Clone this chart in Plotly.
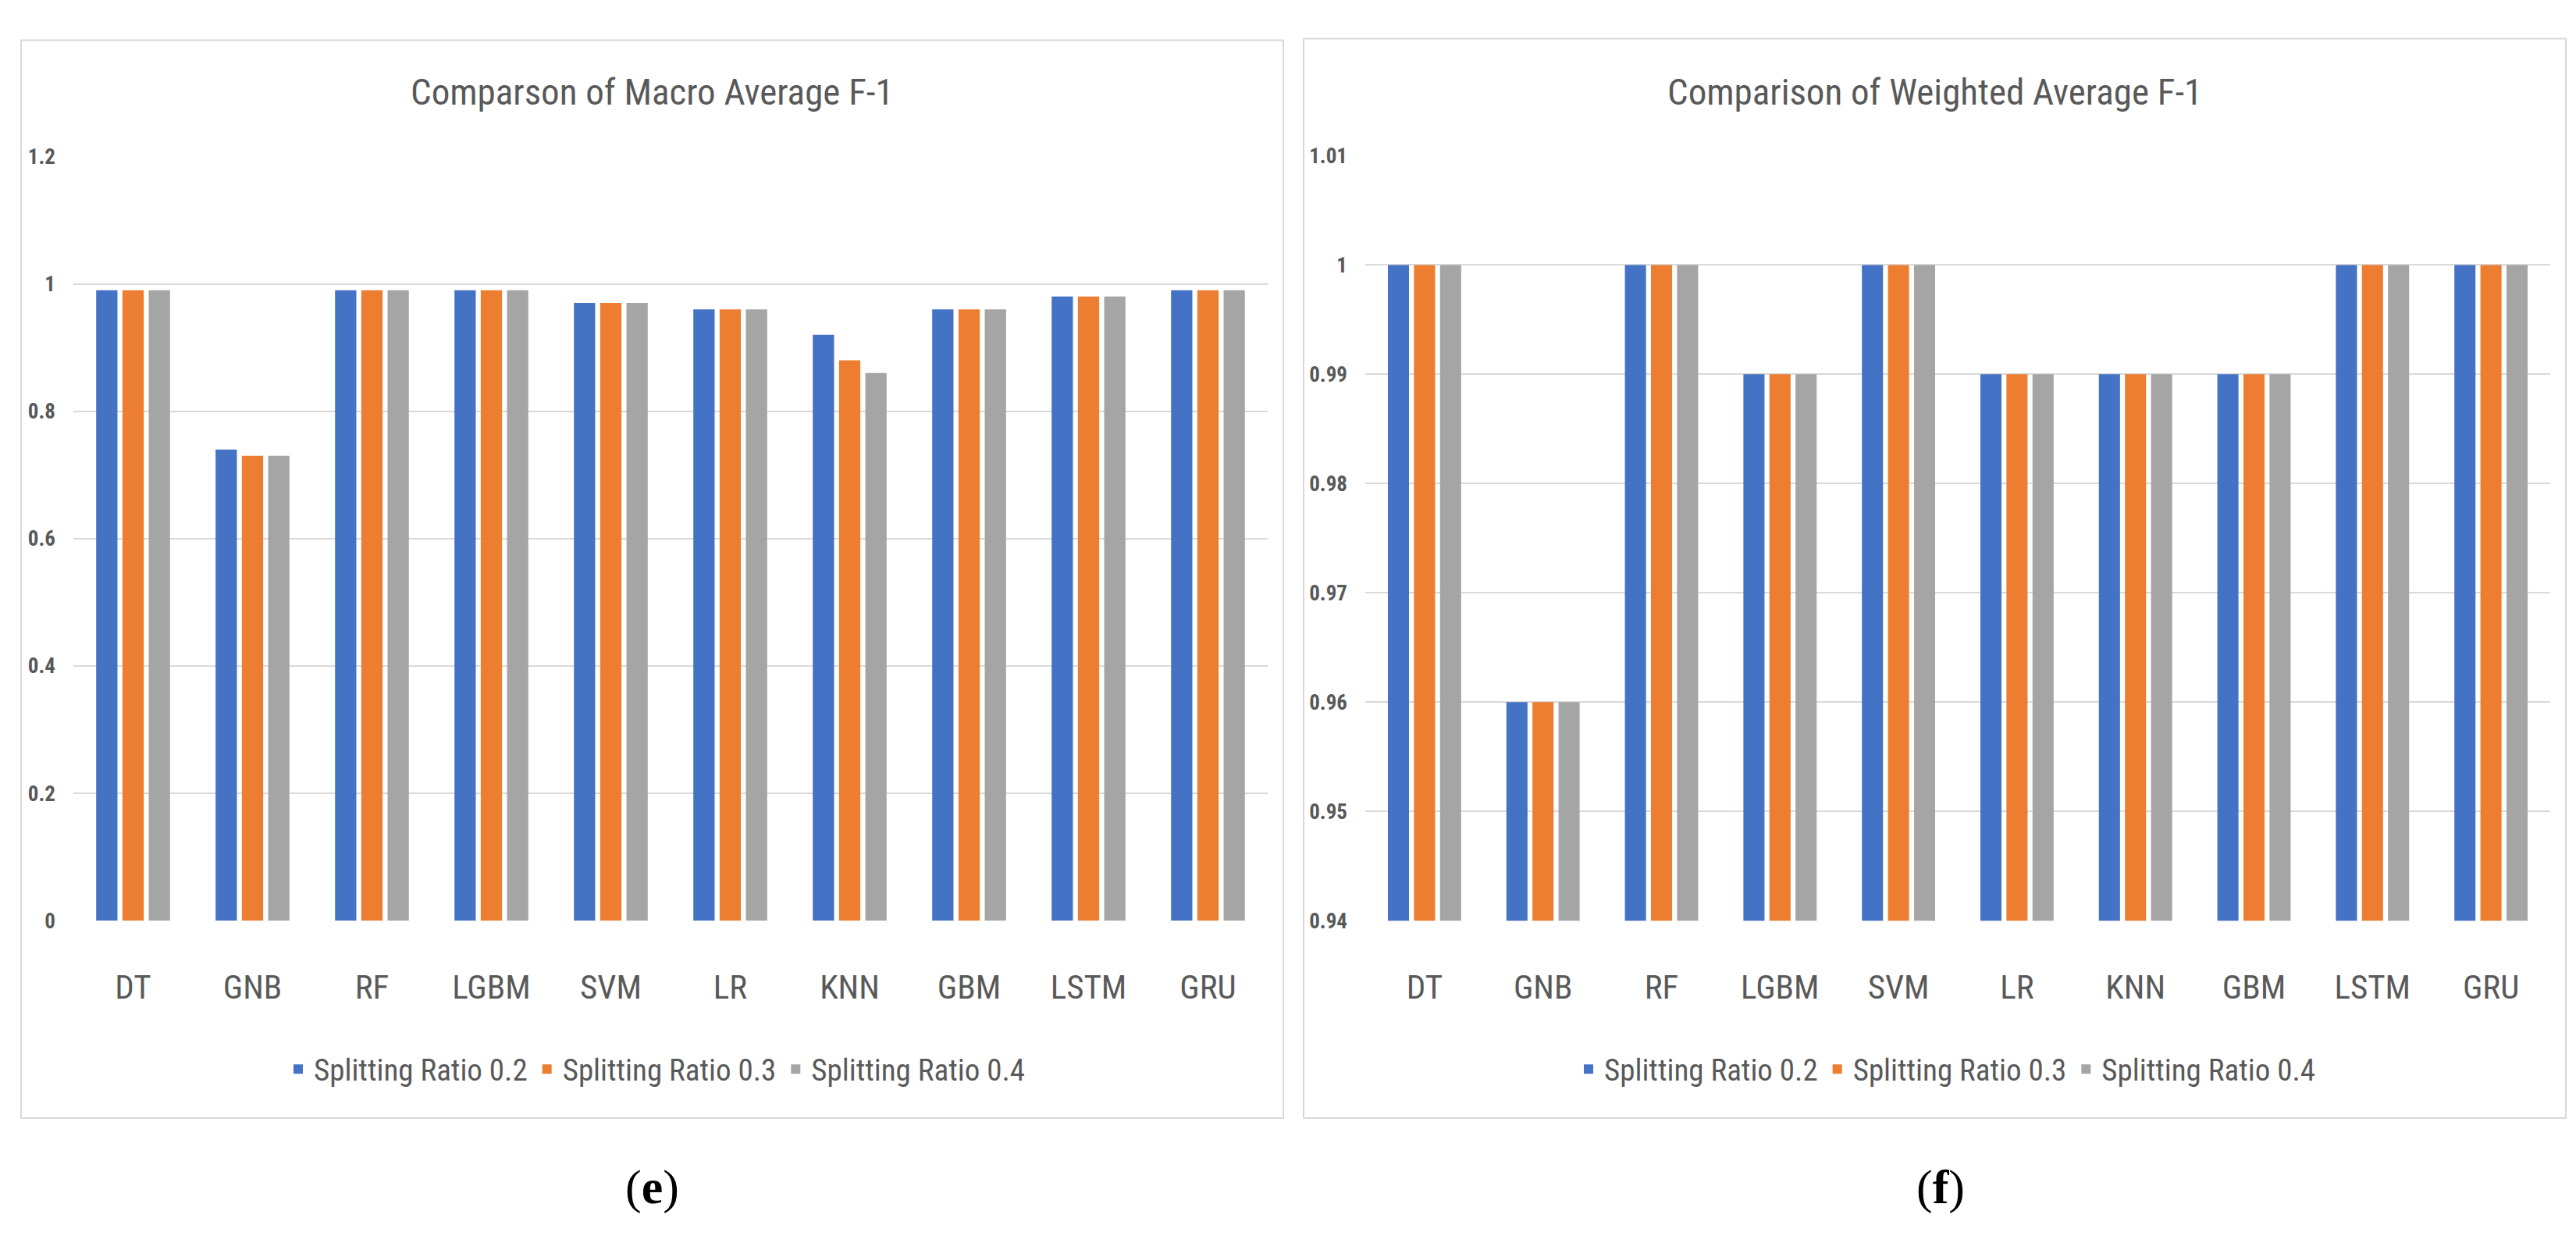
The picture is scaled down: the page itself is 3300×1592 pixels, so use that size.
import plotly.graph_objects as go

# ---------------- data ----------------
models = ["DT", "GNB", "RF", "LGBM", "SVM", "LR", "KNN", "GBM", "LSTM", "GRU"]
series_names = ["Splitting Ratio 0.2", "Splitting Ratio 0.3", "Splitting Ratio 0.4"]

macro_r02 = [0.99, 0.74, 0.99, 0.99, 0.97, 0.96, 0.92, 0.96, 0.98, 0.99]
macro_r03 = [0.99, 0.73, 0.99, 0.99, 0.97, 0.96, 0.88, 0.96, 0.98, 0.99]
macro_r04 = [0.99, 0.73, 0.99, 0.99, 0.97, 0.96, 0.86, 0.96, 0.98, 0.99]

weighted_r02 = [1.00, 0.96, 1.00, 0.99, 1.00, 0.99, 0.99, 0.99, 1.00, 1.00]
weighted_r03 = [1.00, 0.96, 1.00, 0.99, 1.00, 0.99, 0.99, 0.99, 1.00, 1.00]
weighted_r04 = [1.00, 0.96, 1.00, 0.99, 1.00, 0.99, 0.99, 0.99, 1.00, 1.00]

macro_ticks = [0, 0.2, 0.4, 0.6, 0.8, 1, 1.2]
macro_ticktext = ["0", "0.2", "0.4", "0.6", "0.8", "1", "1.2"]
weighted_ticks = [0.94, 0.95, 0.96, 0.97, 0.98, 0.99, 1.00, 1.01]
weighted_ticktext = ["0.94", "0.95", "0.96", "0.97", "0.98", "0.99", "1", "1.01"]

title_left = "Comparson of Macro Average F-1"
title_right = "Comparison of Weighted Average F-1"
caption_left = "(<b>e</b>)"
caption_right = "(<b>f</b>)"

colors = ["#4472C4", "#ED7D31", "#A5A5A5"]

# ---------------- layout helpers ----------------
W, H = 3300, 1592
def px(x):
    return x / W
def py(y):
    return 1 - y / H

FONT = "Liberation Sans Narrow, Arial Narrow, Roboto Condensed, Liberation Sans, sans-serif"
TXT = "#595959"
GRID = "#D9D9D9"

fig = go.Figure()

for name, vals, c in zip(series_names, [macro_r02, macro_r03, macro_r04], colors):
    fig.add_trace(go.Bar(x=models, y=vals, name=name, marker_color=c,
                         marker_line_width=0, xaxis="x", yaxis="y", legend="legend"))
for name, vals, c in zip(series_names, [weighted_r02, weighted_r03, weighted_r04], colors):
    fig.add_trace(go.Bar(x=models, y=vals, name=name, marker_color=c,
                         marker_line_width=0, xaxis="x2", yaxis="y2", legend="legend2"))

axis_common_x = dict(showgrid=False, zeroline=False, showline=False, ticks="",
                     tickfont=dict(family=FONT, size=43, color=TXT), ticklabelstandoff=56,
                     fixedrange=True)
axis_common_y = dict(showgrid=True, gridcolor=GRID, gridwidth=2, zeroline=False,
                     showline=False, ticks="",
                     tickfont=dict(family=FONT, size=27, color=TXT, weight="bold"),
                     ticklabelstandoff=22, fixedrange=True)

legend_common = dict(orientation="h", xanchor="center", yanchor="middle",
                     font=dict(family=FONT, size=39, color=TXT),
                     bgcolor="rgba(0,0,0,0)", itemwidth=30, traceorder="normal")

fig.update_layout(
    width=W, height=H,
    margin=dict(l=0, r=0, t=0, b=0),
    paper_bgcolor="white", plot_bgcolor="white",
    barmode="group", bargap=0.34, bargroupgap=0.19,
    xaxis=dict(domain=[px(86), px(1616)], anchor="y", **axis_common_x),
    yaxis=dict(domain=[py(1179), py(180)], anchor="x", range=[0, 1.2],
               tickvals=macro_ticks, ticktext=macro_ticktext, **axis_common_y),
    xaxis2=dict(domain=[px(1741), px(3259)], anchor="y2", **axis_common_x),
    yaxis2=dict(domain=[py(1179), py(179)], anchor="x2", range=[0.94, 1.01],
                tickvals=weighted_ticks, ticktext=weighted_ticktext, **axis_common_y),
    legend=dict(x=px(832), y=py(1373), **legend_common),
    legend2=dict(x=px(2485), y=py(1373), **legend_common),
    showlegend=True,
)

# panel borders
fig.add_shape(type="rect", xref="paper", yref="paper",
              x0=px(19), x1=px(1636), y0=py(1437), y1=py(28),
              line=dict(color=GRID, width=2), fillcolor="rgba(0,0,0,0)", layer="below")
fig.add_shape(type="rect", xref="paper", yref="paper",
              x0=px(1662), x1=px(3279), y0=py(1437), y1=py(26),
              line=dict(color=GRID, width=2), fillcolor="rgba(0,0,0,0)", layer="below")

# titles
fig.add_annotation(text=title_left, xref="paper", yref="paper", x=px(827), y=py(95),
                   xanchor="center", yanchor="middle", showarrow=False,
                   font=dict(family=FONT, size=47, color=TXT))
fig.add_annotation(text=title_right, xref="paper", yref="paper", x=px(2470), y=py(95),
                   xanchor="center", yanchor="middle", showarrow=False,
                   font=dict(family=FONT, size=47, color=TXT))

# sub-figure captions
fig.add_annotation(text=caption_left, xref="paper", yref="paper", x=px(827), y=py(1527),
                   xanchor="center", yanchor="middle", showarrow=False,
                   font=dict(family="Liberation Serif, serif", size=62, color="black"))
fig.add_annotation(text=caption_right, xref="paper", yref="paper", x=px(2478), y=py(1527),
                   xanchor="center", yanchor="middle", showarrow=False,
                   font=dict(family="Liberation Serif, serif", size=62, color="black"))

fig.write_html("out.html")
